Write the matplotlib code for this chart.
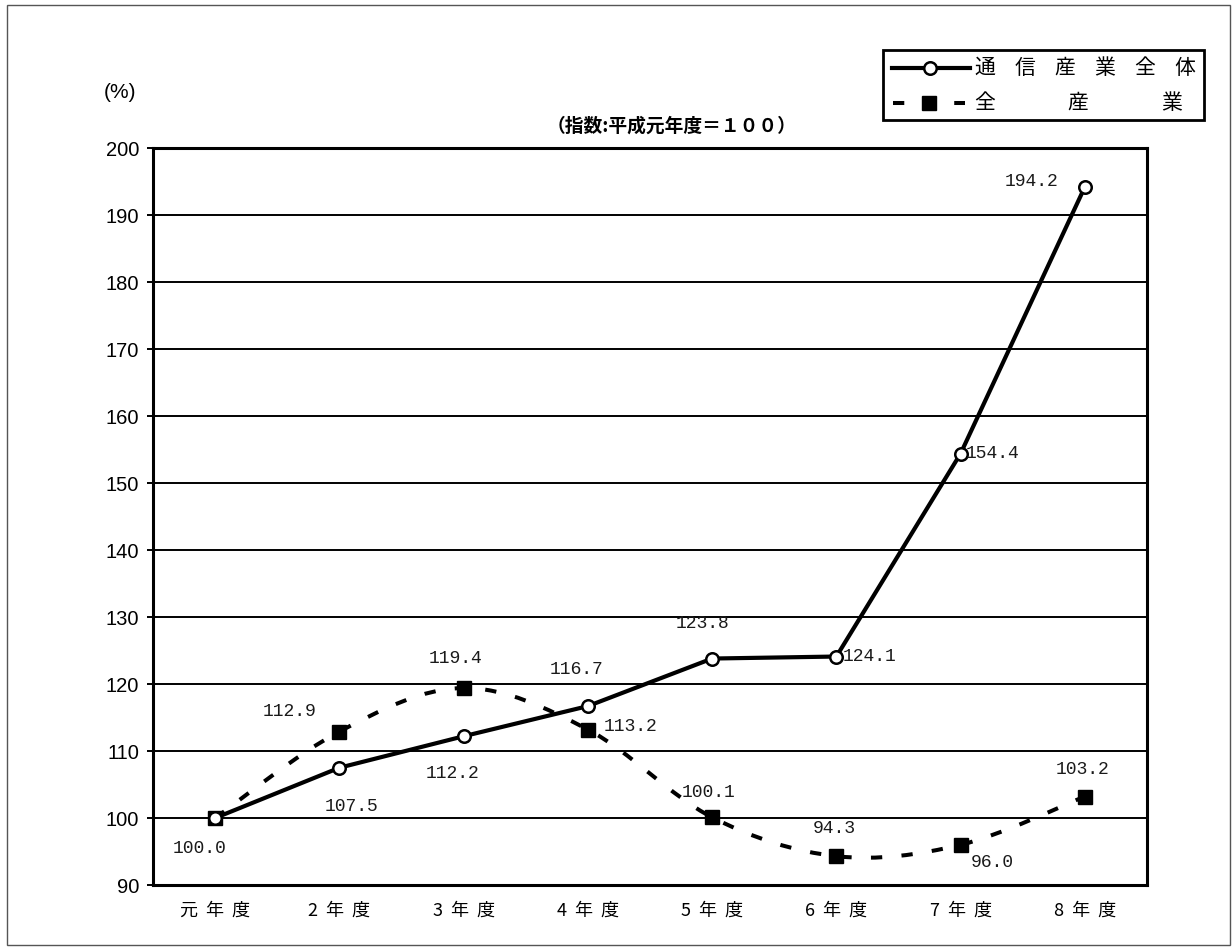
import numpy as np
import matplotlib
matplotlib.use('Agg')
import matplotlib.pyplot as plt
from matplotlib.path import Path
from matplotlib.patches import PathPatch, Rectangle
from matplotlib.lines import Line2D

# 年度別指数 (平成元年度 = 100)
years = ['元  年  度', '2  年  度', '3  年  度', '4  年  度',
         '5  年  度', '6  年  度', '7  年  度', '8  年  度']
telecom = [100.0, 107.5, 112.2, 116.7, 123.8, 124.1, 154.4, 194.2]
all_industry = [100.0, 112.9, 119.4, 113.2, 100.1, 94.3, 96.0, 103.2]

# label offsets in pixels (right, up); None = no label
telecom_off = [(-16, -30), (12, -39), (-11, -37), (-11, 37), (-10, 35), (33, 0), (32, 0), (-53, 5)]
all_off = [None, (-50, 20), (-8, 30), (43, 3), (-4, 25), (-2, 28), (32, -18), (-2, 27)]

W, H = 1232, 951
CJK = ['Noto Sans CJK JP', 'DejaVu Sans']


def fx(x):
    return x / W


def fy(y):
    return 1 - y / H


def smooth_path(xs, ys):
    # Catmull-Rom style cubic bezier through the points
    pts = np.column_stack([xs, ys]).astype(float)
    n = len(pts)
    verts = [pts[0]]
    codes = [Path.MOVETO]
    for i in range(n - 1):
        p0 = pts[max(i - 1, 0)]
        p1 = pts[i]
        p2 = pts[i + 1]
        p3 = pts[min(i + 2, n - 1)]
        c1 = p1 + (p2 - p0) / 6
        c2 = p2 - (p3 - p1) / 6
        verts += [c1, c2, p2]
        codes += [Path.CURVE4] * 3
    return Path(verts, codes)


fig = plt.figure(figsize=(W / 100, H / 100), dpi=100)
ax = fig.add_axes([fx(153), fy(885), (1147 - 153) / W, (885 - 148) / H])

x = np.arange(len(years))

# 全産業: smoothed dashed line with filled squares
dash = (0, (2.8, 4.8))
ax.add_patch(PathPatch(smooth_path(x, all_industry), fill=False, ec='black',
                       lw=2.9, linestyle=dash, capstyle='butt', zorder=3))
ax.plot(x, all_industry, linestyle='none', marker='s', ms=10, mfc='black',
        mec='black', zorder=4)

# 通信産業全体: solid line with open circles
ax.plot(x, telecom, color='black', lw=3, marker='o', ms=9, mfc='white',
        mec='black', mew=1.8, zorder=5)

lab_font = dict(family='Liberation Mono', fontsize=13, color='#1a1a1a')
for xi, v, off in zip(x, telecom, telecom_off):
    if off:
        ax.annotate(f'{v:.1f}', (xi, v), xytext=off, textcoords='offset pixels',
                    ha='center', va='center', zorder=6, **lab_font)
for xi, v, off in zip(x, all_industry, all_off):
    if off:
        ax.annotate(f'{v:.1f}', (xi, v), xytext=off, textcoords='offset pixels',
                    ha='center', va='center', zorder=6, **lab_font)

ax.set_xlim(-0.5, len(years) - 0.5)
ax.set_ylim(90, 200)
ax.set_yticks(range(90, 201, 10))
ax.set_yticklabels([str(t) for t in range(90, 201, 10)],
                   family='Liberation Sans', fontsize=14.5)
ax.set_xticks(x)
ax.set_xticklabels(years, family=CJK, fontsize=13)
ax.tick_params(axis='x', length=0, pad=12)
ax.tick_params(axis='y', length=4, width=1.4, pad=6, direction='out')
ax.grid(axis='y', color='black', lw=1.4)
ax.set_axisbelow(True)
for s in ax.spines.values():
    s.set_linewidth(2.2)

# 単位と注記
fig.text(fx(120), fy(92), '(%)', family='Liberation Sans', fontsize=15,
         ha='center', va='center')
fig.text(fx(672), fy(126), '（指数:平成元年度＝１００）', family=CJK,
         fontsize=13.5, fontweight='bold', ha='center', va='center')

# 凡例
fig.add_artist(Rectangle((fx(883), fy(120)), (1204 - 883) / W, 70 / H,
                         transform=fig.transFigure, fill=False, ec='black', lw=2))
fig.add_artist(Line2D([fx(892), fx(970)], [fy(68)] * 2, transform=fig.transFigure,
                      color='black', lw=3))
fig.add_artist(Line2D([fx(930)], [fy(68)], transform=fig.transFigure, marker='o',
                      ms=9, mfc='white', mec='black', mew=1.8))
fig.add_artist(Line2D([fx(893), fx(965)], [fy(103)] * 2, transform=fig.transFigure,
                      color='black', lw=2.9, linestyle=dash, dash_capstyle='butt'))
fig.add_artist(Line2D([fx(929)], [fy(103)], transform=fig.transFigure, marker='s',
                      ms=10, mfc='black', mec='black'))
for ch, px in zip('通信産業全体', [985, 1025, 1065, 1105, 1145, 1185]):
    fig.text(fx(px), fy(68), ch, family=CJK, fontsize=15, ha='center', va='center')
for ch, px in zip('全産業', [985, 1078, 1172]):
    fig.text(fx(px), fy(103), ch, family=CJK, fontsize=15, ha='center', va='center')

# 外枠
fig.add_artist(Rectangle((fx(7), fy(945)), (1230 - 7) / W, (945 - 5) / H,
                         transform=fig.transFigure, fill=False, ec='#555555', lw=1))

fig.savefig('out.png', dpi=100)
